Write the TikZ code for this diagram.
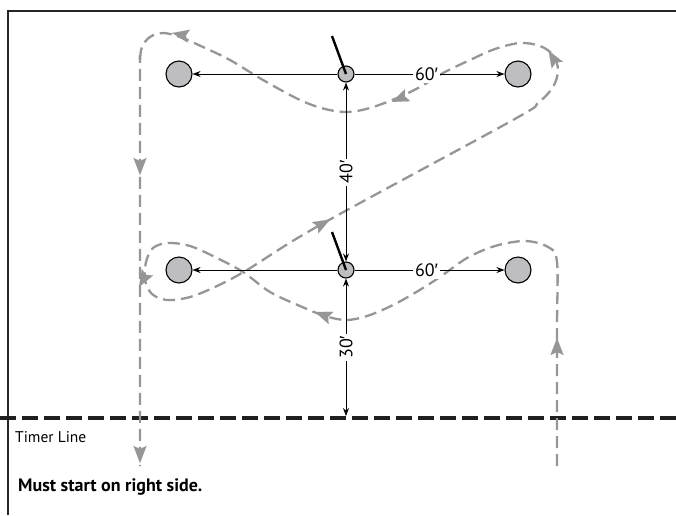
\documentclass[tikz,border=0pt]{standalone}
\usepackage{fontspec}
\setmainfont{PT Sans}
\newfontfamily\primefont{Liberation Sans}
\usetikzlibrary{arrows.meta}
\definecolor{conegray}{RGB}{190,190,192}
\definecolor{routegray}{RGB}{150,150,150}
\newcommand{\ftm}{{\primefont\symbol{"2032}}}
\begin{document}
\begin{tikzpicture}[x=1pt,y=-1pt,
  cone/.style={circle,draw=black,line width=1.1pt,fill=conegray,minimum size=26pt,inner sep=0pt},
  pole/.style={circle,draw=black,line width=1.1pt,fill=conegray,minimum size=16pt,inner sep=0pt},
  stick/.style={draw=black,line width=2.4pt},
  dim/.style={draw=black,line width=0.8pt,-{Stealth[length=8pt,width=6pt]}},
  dimboth/.style={draw=black,line width=0.8pt,{Stealth[length=8pt,width=6pt]}-{Stealth[length=8pt,width=6pt]}},
  lbl/.style={fill=white,inner sep=2pt,font=\fontsize{18}{18}\selectfont},
  timer/.style={draw=black!88,line width=4pt,dash pattern=on 16pt off 6pt},
  route/.style={draw=routegray,line width=2.3pt,dash pattern=on 12pt off 6pt},
  garrow/.style={draw=routegray,fill=routegray,line width=0.1pt,-{Stealth[length=17pt,width=13pt,inset=3pt]}},
]
\useasboundingbox (0,0) rectangle (676,515);
% frame
\draw[line width=1.5pt,black!85] (8,515) -- (8,11) -- (676,11);
% timer line
\coordinate (tlL) at (0,418);
\coordinate (tlR) at (676,418);
\draw[timer] (tlL) -- (tlR);
% route
\draw[route] plot[smooth,tension=0.55] coordinates {
 (557,466) (557,330) (557,262) (548,247) (525,241) (495,246) (467,258)
 (440,277) (418,291) (395,304) (370,315) (347,320) (325,316) (300,306)
 (270,292) (243,272) (215,257) (190,246) (168,243) (153,248) (146,262)
 (145,280) (152,294) (167,300) (190,297) (217,286) (247,270)
 (320,225) (513,120) (538,103) (553,87) (558,70) (553,55) (540,46)
 (520,43) (495,49) (470,60) (443,73) (420,87) (397,98) (370,108)
 (347,112) (325,109) (300,100) (263,80) (230,60) (203,47) (180,37)
 (163,33) (150,37) (142,47) (140,62) (140,90) (140,466)};
% route arrowheads
\draw[garrow] (557,346) -- (557,338);
\draw[garrow] (553,58) -- (548.5,50.5);
\draw[garrow] (400,98.5) -- (392,102);
\draw[garrow] (180,34.5) -- (172,33);
\draw[garrow] (140,167) -- (140,175);
\draw[garrow] (140,455) -- (140,463);
\draw[garrow] (323,315) -- (315,312);
\draw[garrow] (143,280) -- (139,287);
\draw[garrow] (322,224) -- (330,219.5);
% cones
\node[cone] (tl) at (179,74) {};
\node[cone] (tr) at (518,74) {};
\node[pole] (tc) at (346,74) {};
\node[cone] (bl) at (179,270) {};
\node[cone] (br) at (518,270) {};
\node[pole] (bc) at (346,270) {};
\coordinate (m30) at (346,416);
% dimensions
\draw[dim] (tc) -- (tl);
\draw[dim] (tc) -- node[lbl,pos=0.48]{60\ftm} (tr);
\draw[dim] (bc) -- (bl);
\draw[dim] (bc) -- node[lbl,pos=0.48]{60\ftm} (br);
\draw[dimboth] (tc) -- node[lbl,rotate=90]{40\ftm} (bc);
\draw[dimboth] (bc) -- node[lbl,rotate=90]{30\ftm} (m30);
% sticks
\coordinate (ts) at (332,36);
\coordinate (bs) at (332,232);
\draw[stick] (tc.center) -- (ts);
\draw[stick] (bc.center) -- (bs);
% texts
\node[anchor=west,inner sep=0pt,font=\fontsize{15.5}{15.5}\selectfont] (timertext) at (15,437) {Timer Line};
\node[anchor=west,inner sep=0pt,font=\bfseries\fontsize{18}{18}\selectfont] (must) at (18,487) {Must start on right side.};
\end{tikzpicture}
\end{document}
